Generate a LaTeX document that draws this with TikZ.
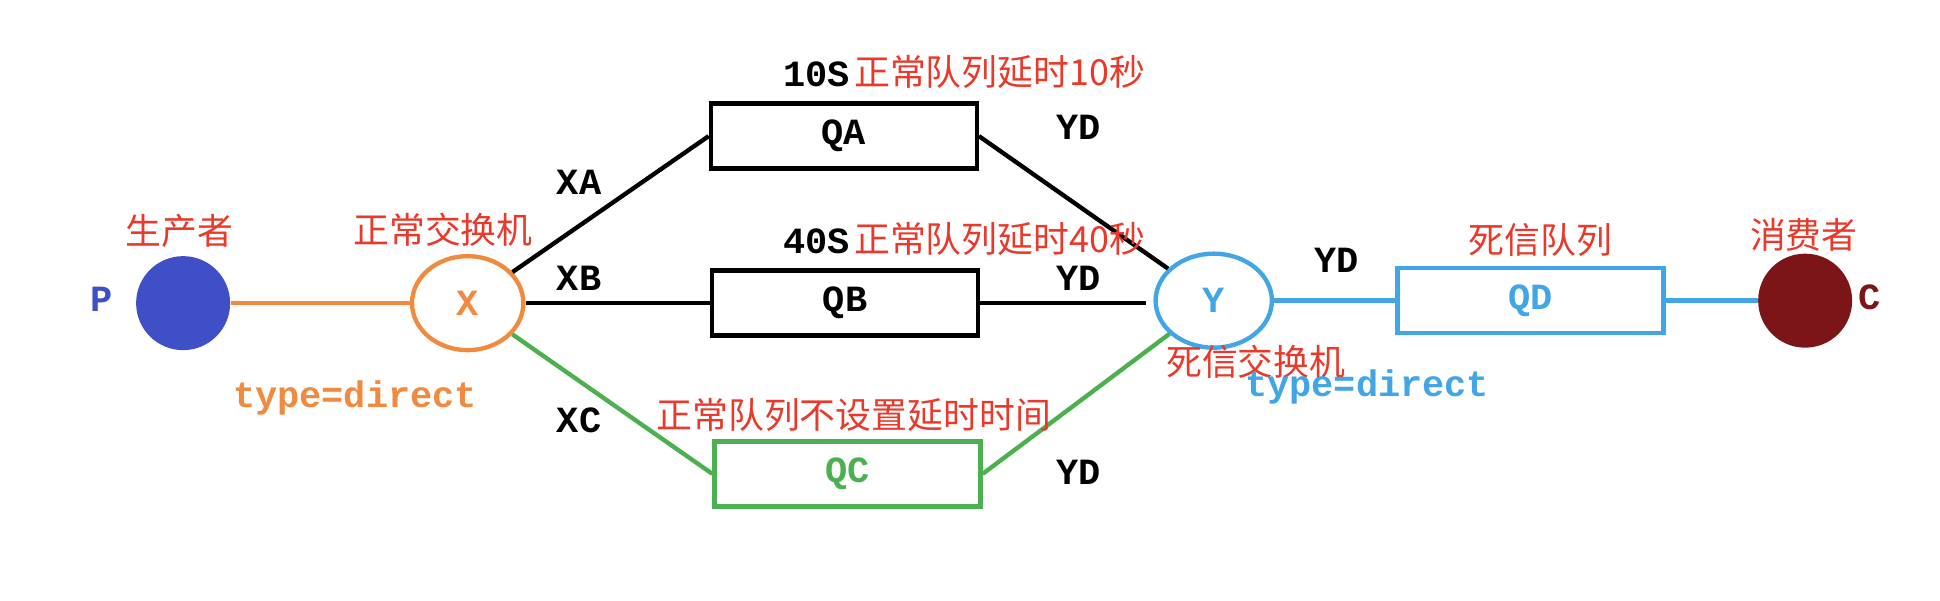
\documentclass[tikz,border=0pt]{standalone}
\usepackage{fontspec}
\setmonofont{Liberation Mono}
\newfontfamily\cjk{Noto Sans CJK SC}
\usetikzlibrary{shapes.geometric}
\definecolor{pblue}{HTML}{3F4FC6}
\definecolor{xor}{HTML}{F08A3E}
\definecolor{ybl}{HTML}{42A5E6}
\definecolor{qgr}{HTML}{4CAF50}
\definecolor{cred}{HTML}{7B1518}
\definecolor{lab}{HTML}{E8392A}
\begin{document}
\begin{tikzpicture}[x=0.02cm,y=-0.02cm,
  lw/.style={line width=2pt},
  mono/.style={font=\ttfamily\bfseries\fontsize{17}{17}\selectfont},
  cn/.style={font=\cjk\fontsize{16.5}{17}\selectfont,text=lab,inner sep=0pt},
  q/.style={draw,lw,minimum width=4.3cm,minimum height=1.05cm,mono,inner sep=0pt}]
\useasboundingbox (0,0) rectangle (1568,485);
\node[circle,fill=pblue,minimum size=1.52cm,inner sep=0pt] (P) at (148,245) {};
\node[mono,text=pblue] (Pl) at (82,242) {P};
\node[ellipse,draw=xor,lw,minimum width=1.8cm,minimum height=1.52cm,mono,text=xor] (X) at (378,245) {X};
\node[ellipse,draw=ybl,lw,minimum width=1.88cm,minimum height=1.52cm,mono,text=ybl] (Y) at (981,243) {Y};
\node[circle,fill=cred,minimum size=1.52cm,inner sep=0pt] (C) at (1459,243) {};
\node[mono,text=cred] (Cl) at (1511,240) {C};
\node[q] (QA) at (682,110) {QA};
\node[q] (QB) at (683,245) {QB};
\node[q,draw=qgr,text=qgr] (QC) at (685,383) {QC};
\node[q,draw=ybl,text=ybl] (QD) at (1237,243) {QD};
\draw[xor,lw] (P) -- (X);
\draw[lw] (X) -- (QA.west);
\draw[lw] (X.east) -- (QB.west);
\draw[qgr,lw] (X) -- (QC.west);
\draw[lw] (QA.east) -- (Y);
\draw[lw] (QB.east) -- ([xshift=-0.12cm]QB.east -| Y.west);
\draw[qgr,lw] (QC.east) -- (Y);
\draw[ybl,lw] (Y.east) -- (QD.west);
\draw[ybl,lw] (QD.east) -- (C);
\node[cn] (t1) at (145,187) {生产者};
\node[cn] (t2) at (358,186) {正常交换机};
\node[mono,text=xor] (t3) at (287,322) {type=direct};
\node[mono] (s1) at (660,60) {10S};
\node[cn,anchor=west] (t4) at (690,58) {正常队列延时10秒};
\node[mono] (s2) at (660,195) {40S};
\node[cn,anchor=west] (t5) at (690,193) {正常队列延时40秒};
\node[cn] (t6) at (690,335) {正常队列不设置延时时间};
\node[cn] (t7) at (1015,292) {死信交换机};
\node[cn] (t8) at (1245,194) {死信队列};
\node[cn] (t9) at (1458,190) {消费者};
\node[mono,text=ybl] (t10) at (1105,313) {type=direct};
\node[mono] (a) at (468,147) {XA};
\node[mono] (b) at (468,225) {XB};
\node[mono] (c) at (468,340) {XC};
\node[mono] (d1) at (872,103) {YD};
\node[mono] (d2) at (872,225) {YD};
\node[mono] (d3) at (872,382) {YD};
\node[mono] (d4) at (1080,210) {YD};
\end{tikzpicture}
\end{document}
